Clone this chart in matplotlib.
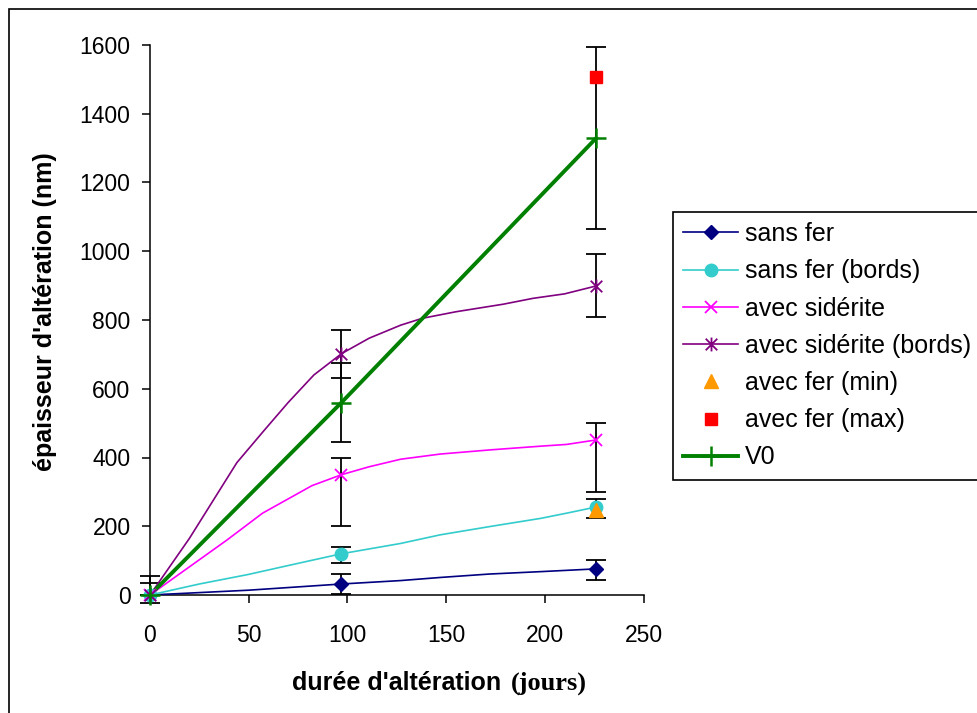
import matplotlib.pyplot as plt
from matplotlib.lines import Line2D
from matplotlib.patches import Rectangle
from matplotlib.path import Path

# measurement days
days = [0, 97, 226]

# measured values (nm) and error bars (upper / lower)
sans_fer = [0, 32, 76]
sans_fer_hi = [0, 28, 27]
sans_fer_lo = [0, 28, 31]

sans_fer_bords = [0, 120, 256]
sans_fer_bords_hi = [36, 20, 23]
sans_fer_bords_lo = [0, 28, 32]

siderite = [0, 350, 451]
siderite_hi = [0, 48, 49]
siderite_lo = [0, 150, 151]

siderite_bords = [0, 702, 899]
siderite_bords_hi = [55, 68, 93]
siderite_bords_lo = [24, 72, 90]

v0 = [0, 560, 1329]
v0_hi = [0, 114, 264]
v0_lo = [0, 114, 265]

fer_day = [226]
fer_min = [247]
fer_max = [1508]

# smoothed curves as drawn in the original chart
sans_fer_cx = [0, 50, 97, 127, 147, 172, 198, 226]
sans_fer_cy = [0, 14, 32, 42, 51, 61, 68, 76]
bords_cx = [0, 25, 50, 71, 97, 127, 147, 172, 198, 211, 226]
bords_cy = [0, 32, 60, 87, 120, 150, 175, 199, 223, 238, 256]
sid_cx = [0, 39, 57, 82, 97, 111, 127, 147, 172, 198, 211, 226]
sid_cy = [0, 160, 238, 318, 350, 373, 395, 410, 422, 433, 438, 451]
sidb_cx = [0, 20, 44, 58, 70, 83, 97, 111, 127, 138, 155, 179, 194, 210, 226]
sidb_cy = [0, 165, 385, 480, 560, 640, 702, 747, 785, 805, 824, 846, 863, 876, 899]

NAVY = '#000080'
CYAN = '#33CCCC'
MAGENTA = '#FF00FF'
PURPLE = '#800080'
ORANGE = '#FF9900'
RED = '#FF0000'
GREEN = '#008000'

# Excel-style star: x with a vertical bar
STAR = Path([(-1, -1), (1, 1), (-1, 1), (1, -1), (0, -1.2), (0, 1.2)],
            [Path.MOVETO, Path.LINETO, Path.MOVETO, Path.LINETO, Path.MOVETO, Path.LINETO])

plt.rcParams['font.family'] = ['Liberation Sans', 'DejaVu Sans']
FS_TICK = 16.5
FS = 18

fig = plt.figure(figsize=(9.77, 7.13), dpi=100)
ax = fig.add_axes([150 / 977, 1 - 595 / 713, 493.5 / 977, 550 / 713])

err_kw = dict(fmt='none', ecolor='black', elinewidth=1.3, capsize=7, capthick=1.3, zorder=2, clip_on=False)
ax.errorbar(days, sans_fer, yerr=[sans_fer_lo, sans_fer_hi], **err_kw)
ax.errorbar(days, sans_fer_bords, yerr=[sans_fer_bords_lo, sans_fer_bords_hi], **err_kw)
ax.errorbar(days, siderite, yerr=[siderite_lo, siderite_hi], **err_kw)
ax.errorbar(days, siderite_bords, yerr=[siderite_bords_lo, siderite_bords_hi], **err_kw)
ax.errorbar(days, v0, yerr=[v0_lo, v0_hi], **err_kw)

# lines
ax.plot(sans_fer_cx, sans_fer_cy, color=NAVY, lw=1.2, zorder=3)
ax.plot(bords_cx, bords_cy, color=CYAN, lw=1.2, zorder=3)
ax.plot(sid_cx, sid_cy, color=MAGENTA, lw=1.2, zorder=3)
ax.plot(sidb_cx, sidb_cy, color=PURPLE, lw=1.2, zorder=3)
ax.plot(days, v0, color=GREEN, lw=2.8, zorder=3)

# markers
ax.plot(days, sans_fer, ls='none', marker='D', ms=7.5, color=NAVY, zorder=4, clip_on=False)
ax.plot(days, sans_fer_bords, ls='none', marker='o', ms=9, color=CYAN, zorder=4, clip_on=False)
ax.plot(days, siderite, ls='none', marker='x', ms=9, mew=1.3, color=MAGENTA, zorder=4, clip_on=False)
ax.plot(days, siderite_bords, ls='none', marker=STAR, ms=10, mew=1.3, color=PURPLE, zorder=4, clip_on=False)
ax.plot(fer_day, fer_min, ls='none', marker='^', ms=10, color=ORANGE, zorder=5)
ax.plot(fer_day, fer_max, ls='none', marker='s', ms=8.5, color=RED, zorder=5)
ax.plot(days, v0, ls='none', marker='+', ms=14, mew=1.8, color=GREEN, zorder=4, clip_on=False)

ax.set_xlim(0, 250)
ax.set_ylim(0, 1600)
ax.set_xticks(range(0, 251, 50))
ax.set_yticks(range(0, 1601, 200))
for s in ['top', 'right']:
    ax.spines[s].set_visible(False)
for s in ['left', 'bottom']:
    ax.spines[s].set_linewidth(1.1)
ax.tick_params(direction='out', length=6, width=1.1, labelsize=FS_TICK, pad=8)
ax.tick_params(axis='x', pad=15)

fig.text(45 / 977, 1 - 312 / 713, "épaisseur d'altération (nm)", fontsize=FS, fontweight='bold',
         rotation=90, ha='center', va='center')
fig.text(501 / 977, 1 - 683 / 713, "durée d'altération", fontsize=FS, fontweight='bold',
         ha='right', va='center')
fig.text(511 / 977, 1 - 683 / 713, "(jours)", fontsize=FS + 1, fontweight='bold',
         family=['Liberation Serif', 'DejaVu Serif'], ha='left', va='center')

handles = [
    Line2D([], [], color=NAVY, lw=1.2, marker='D', ms=7.5),
    Line2D([], [], color=CYAN, lw=1.2, marker='o', ms=9),
    Line2D([], [], color=MAGENTA, lw=1.2, marker='x', ms=9, mew=1.3),
    Line2D([], [], color=PURPLE, lw=1.2, marker=STAR, ms=10, mew=1.3),
    Line2D([], [], ls='none', marker='^', ms=10, color=ORANGE),
    Line2D([], [], ls='none', marker='s', ms=8.5, color=RED),
    Line2D([], [], color=GREEN, lw=2.8, marker='+', ms=14, mew=1.8),
]
labels = ['sans fer', 'sans fer (bords)', 'avec sidérite', 'avec sidérite (bords)',
          'avec fer (min)', 'avec fer (max)', 'V0']
leg = fig.legend(handles, labels, loc='upper left', bbox_to_anchor=(673 / 977, 1 - 212 / 713),
                 frameon=True, fancybox=False, edgecolor='black', framealpha=1, fontsize=FS,
                 borderpad=0.4, handlelength=2.2, handletextpad=0.28, labelspacing=0.53,
                 borderaxespad=0)
leg.get_frame().set_linewidth(1.2)

fig.add_artist(Rectangle((9 / 977, -0.1), 1.2, 1.1 - 9 / 713, transform=fig.transFigure,
                         fill=False, ec='black', lw=1.2))

fig.savefig('out.png', dpi=100)
